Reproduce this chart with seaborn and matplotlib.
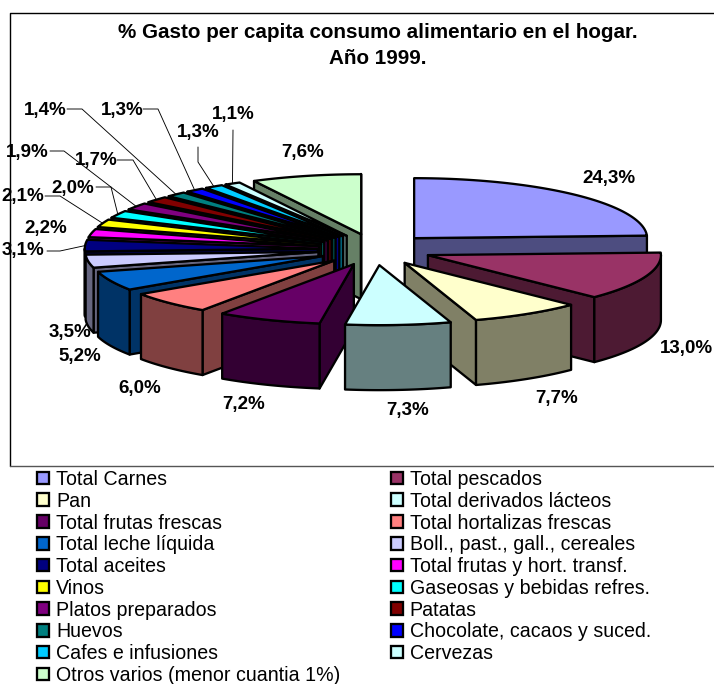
import numpy as np
import matplotlib
matplotlib.use("Agg")
import matplotlib.pyplot as plt
from matplotlib.patches import Polygon, Patch
import seaborn as sns

# ---- data ----
categories = ["Total Carnes", "Total pescados", "Pan", "Total derivados lácteos",
              "Total frutas frescas", "Total hortalizas frescas", "Total leche líquida",
              "Boll., past., gall., cereales", "Total aceites", "Total frutas y hort. transf.",
              "Vinos", "Gaseosas y bebidas refres.", "Platos preparados", "Patatas",
              "Huevos", "Chocolate, cacaos y suced.", "Cafes e infusiones", "Cervezas",
              "Otros varios (menor cuantia 1%)"]
values = [24.3, 13.0, 7.7, 7.3, 7.2, 6.0, 5.2, 3.5, 3.1, 2.2, 2.1, 2.0, 1.9, 1.7, 1.4, 1.3, 1.3, 1.1, 7.6]
colors = ["#9999FF", "#993366", "#FFFFCC", "#CCFFFF", "#660066", "#FF8080", "#0066CC", "#CCCCFF",
          "#000080", "#FF00FF", "#FFFF00", "#00FFFF", "#800080", "#800000", "#008080", "#0000FF",
          "#00CCFF", "#CCFFFF", "#CCFFCC"]
title_lines = ["% Gasto per capita consumo alimentario en el hogar.", "Año 1999."]

# ---- layout (pixels) ----
W, H = 714, 684
CX, CY = 374.7, 249.5
RX, RY = 233.0, 60.0
DX, DY = 57.0, 15.7
DEPTH = 65.0
LABEL_POS = [(609, 179), (686, 348), (557, 399), (408, 411), (244, 405), (140, 388), (80, 357),
             (70, 332), (23, 251), (46, 228), (23, 197), (73, 188), (27, 152), (96, 161),
             (45, 110), (122, 110), (198, 133), (233, 114), (303, 153)]
LEADERS = {8: [(47, 251), (60, 251)], 10: [(45, 196), (60, 196)], 11: [(96, 187), (111, 187)],
           12: [(50, 151), (64, 151)], 13: [(117, 160), (133, 160)], 14: [(67, 109), (82, 109)],
           15: [(143, 109), (158, 109)], 16: [(198, 147), (198, 162)], 17: [(233, 130)]}

sns.set_theme(style="white")
plt.rcParams["font.family"] = ["Liberation Sans", "DejaVu Sans"]
palette = sns.color_palette(colors)
shade = [tuple(c * 0.5 for c in col) for col in palette]
PX = 72 / 100
LW = 2.3 * PX

fig = plt.figure(figsize=(W / 100, H / 100), dpi=100)
ax = fig.add_axes([0, 0, 1, 1])
ax.set_xlim(0, W)
ax.set_ylim(H, 0)
ax.axis("off")

shares = np.array(values) / np.sum(values) * 360
edges = np.concatenate([[0], np.cumsum(shares)])
mids = (edges[:-1] + edges[1:]) / 2


def apex(m):
    r = np.radians(m)
    return CX + DX * np.sin(r), CY - DY * np.cos(r)


def rim(a, t):
    r = np.radians(t)
    return a[0] + RX * np.sin(r), a[1] - RY * np.cos(r)


def add(points, face, z):
    ax.add_patch(Polygon(points, closed=True, facecolor=face, edgecolor="black",
                         linewidth=LW, joinstyle="round", zorder=z))


order = np.argsort(-np.cos(np.radians(mids)))
z = 3.0
for i in order:
    a = apex(mids[i])
    t0, t1 = edges[i], edges[i + 1]
    r0, r1 = np.radians(t0), np.radians(t1)
    if np.sin(r0) < 0:
        p = rim(a, t0)
        add([a, p, (p[0], p[1] + DEPTH), (a[0], a[1] + DEPTH)], shade[i], z)
        z += 0.001
    if np.sin(r1) > 0:
        p = rim(a, t1)
        add([a, p, (p[0], p[1] + DEPTH), (a[0], a[1] + DEPTH)], shade[i], z)
        z += 0.001
    lo, hi = max(t0, 90), min(t1, 270)
    if hi > lo:
        arc = [rim(a, t) for t in np.linspace(lo, hi, 40)]
        add(arc + [(x, y + DEPTH) for x, y in arc[::-1]], shade[i], z)
        z += 0.001
    top = [a] + [rim(a, t) for t in np.linspace(t0, t1, 60)]
    add(top, palette[i], z)
    z += 0.001

# data labels and leader lines
for i, v in enumerate(values):
    ax.text(*LABEL_POS[i], f"{v:.1f}%".replace(".", ","), ha="center", va="center",
            fontsize=18.8 * PX, fontweight="bold", color="black", zorder=20)
    if i in LEADERS:
        pts = LEADERS[i] + [rim(apex(mids[i]), mids[i])]
        ax.plot(*zip(*pts), color="black", lw=0.9 * PX, zorder=19)

# title
ax.text(378, 32, title_lines[0], ha="center", va="center", fontsize=20.7 * PX,
        fontweight="bold", color="black")
ax.text(378, 59, title_lines[1], ha="center", va="center", fontsize=20.7 * PX,
        fontweight="bold", color="black")

# frame
ax.plot([10, 10, W], [466, 13, 13], color="black", lw=1.4 * PX, zorder=1)
ax.plot([10, W], [466, 466], color="#555555", lw=1.4 * PX, zorder=1)

# legend (two columns, row-wise order)
handles = [Patch(facecolor=palette[i], edgecolor="black", linewidth=LW, label=categories[i])
           for i in range(len(values))]
h_sorted = handles[0::2] + handles[1::2]
ax.legend(handles=h_sorted, ncols=2, loc="upper left", bbox_to_anchor=(37, 470),
          bbox_transform=ax.transData, frameon=False, borderpad=0, borderaxespad=0,
          prop={"family": "Liberation Sans", "size": 19.7 * PX},
          handlelength=0.61, handleheight=0.61, handletextpad=0.36,
          labelspacing=0.14, columnspacing=2.55, labelcolor="black")

fig.savefig("out.png", dpi=100)
